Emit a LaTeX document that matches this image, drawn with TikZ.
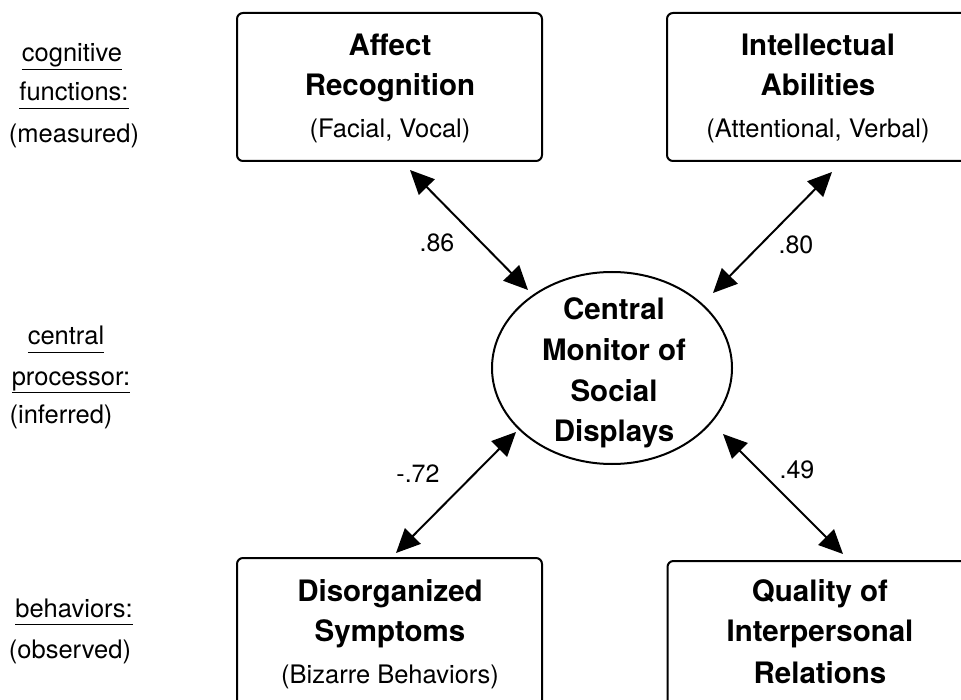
\documentclass[tikz,border=0pt]{standalone}
\usepackage{fontspec}
\setmainfont{TeX Gyre Heros}
\usetikzlibrary{arrows.meta,shapes.geometric,calc}

\tikzset{
  boxnode/.style={draw, line width=2pt, rounded corners=6pt, rectangle,
    minimum width=305pt, minimum height=148pt, inner sep=0pt},
  hubnode/.style={draw, line width=2pt, ellipse, minimum width=240pt,
    minimum height=192pt, inner sep=0pt},
  headline/.style={anchor=base, inner sep=0pt, font=\fontsize{29.5}{35}\selectfont\bfseries},
  subline/.style={anchor=base, inner sep=0pt, font=\fontsize{25.5}{30}\selectfont},
  sidetext/.style={anchor=base, inner sep=0pt, font=\fontsize{25.5}{30}\selectfont},
  weight/.style={anchor=base, inner sep=0pt, font=\fontsize{25}{30}\selectfont},
  biarrow/.style={line width=2pt,
    {Triangle[length=24pt,width=22pt]}-{Triangle[length=24pt,width=22pt]}}
}
\newcommand{\uline}[1]{\underline{\vphantom{g}#1}}

\begin{document}
\begin{tikzpicture}[x=1pt,y=-1pt]
  \useasboundingbox (0,0) rectangle (961,700);
  \clip (0,0) rectangle (961,700);

  % boxes and the central ellipse
  \node[boxnode] (aff) at (389.5,87) {};
  \node[boxnode, minimum width=302pt] (int) at (818,87) {};
  \node[boxnode] (dis) at (389.5,632) {};
  \node[boxnode, minimum width=302pt] (qual) at (818.5,635) {};
  \node[hubnode] (cm) at (612,368) {};

  % box texts
  \node[headline] (aff1) at (390,56) {Affect};
  \node[headline] (aff2) at (390,96) {Recognition};
  \node[subline]  (aff3) at (390,138) {(Facial, Vocal)};

  \node[headline] (int1) at (818,56) {Intellectual};
  \node[headline] (int2) at (818,96) {Abilities};
  \node[subline]  (int3) at (818,138) {(Attentional, Verbal)};

  \node[headline] (cm1) at (614,320) {Central};
  \node[headline] (cm2) at (614,361) {Monitor of};
  \node[headline] (cm3) at (614,401) {Social};
  \node[headline] (cm4) at (614,441) {Displays};

  \node[headline] (dis1) at (390,601) {Disorganized};
  \node[headline] (dis2) at (390,641) {Symptoms};
  \node[subline]  (dis3) at (390,683) {(Bizarre Behaviors)};

  \node[headline] (qual1) at (820,601) {Quality of};
  \node[headline] (qual2) at (820,641) {Interpersonal};
  \node[headline] (qual3) at (820,683) {Relations};

  % row labels on the left
  \node[sidetext] (l1) at (72,62) {\uline{cognitive}};
  \node[sidetext] (l2) at (74,101) {\uline{functions:}};
  \node[sidetext] (l3) at (74,143) {(measured)};
  \node[sidetext] (l4) at (66,345) {\uline{central}};
  \node[sidetext] (l5) at (71,385) {\uline{processor:}};
  \node[sidetext] (l6) at (61,424) {(inferred)};
  \node[sidetext] (l7) at (74,617) {\uline{behaviors:}};
  \node[sidetext] (l8) at (70,658) {(observed)};

  % connector end points
  \coordinate (aTop) at ($(aff.south)+(20.5,8)$);
  \coordinate (aHub) at ($(cm.center)+(-84,-78)$);
  \coordinate (iTop) at ($(int.south)+(14,10)$);
  \coordinate (iHub) at ($(cm.center)+(101,-75)$);
  \coordinate (dBot) at ($(dis.north)+(6.5,-4)$);
  \coordinate (dHub) at ($(cm.center)+(-96,64)$);
  \coordinate (qBot) at ($(qual.north)+(24.5,-6)$);
  \coordinate (qHub) at ($(cm.center)+(111,66)$);

  % correlations
  \draw[biarrow] (aTop) -- (aHub);
  \draw[biarrow] (iTop) -- (iHub);
  \draw[biarrow] (dBot) -- (dHub);
  \draw[biarrow] (qBot) -- (qHub);

  \node[weight] (w1) at (437,252) {.86};
  \node[weight] (w2) at (796,254) {.80};
  \node[weight] (w3) at (418,482) {-.72};
  \node[weight] (w4) at (797,478) {.49};
\end{tikzpicture}
\end{document}
